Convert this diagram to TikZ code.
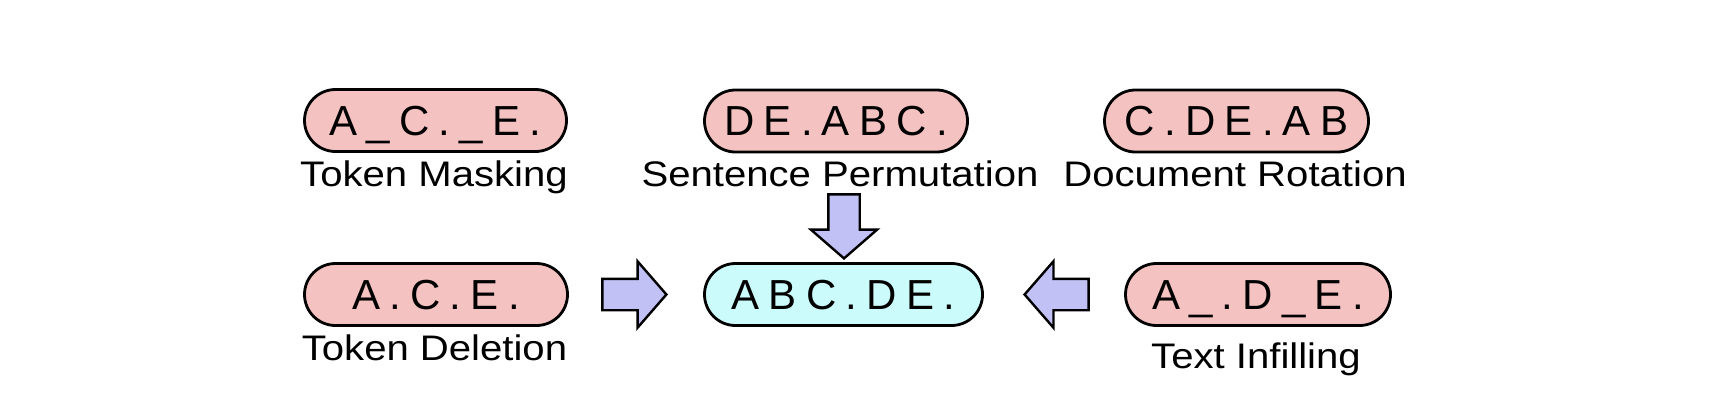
\documentclass[tikz,border=0pt]{standalone}
\usepackage{fontspec}
\setmainfont{Liberation Sans}
\newfontfamily\seqfont[LetterSpace=22]{Liberation Sans}
\newfontfamily\capfont[FakeStretch=1.13]{Liberation Sans}
\usepackage{xcolor}
\usetikzlibrary{shapes.misc,shapes.arrows,positioning}
\definecolor{noisepink}{RGB}{245,194,194}
\definecolor{origcyan}{RGB}{204,251,251}
\definecolor{arrowblue}{RGB}{193,193,245}

\begin{document}
\begin{tikzpicture}[x=1pt, y=-1pt]
		\tikzstyle{every node}=[inner sep=0pt]
		\tikzstyle{seq}=[rounded rectangle, draw, line width=2.8pt, fill=noisepink, minimum height=62pt, text height=29pt, text depth=0pt, font=\fontsize{42}{42}\seqfont]
		\tikzstyle{caption}=[anchor=base, font=\fontsize{35.5}{36}\capfont]
		\tikzstyle{bigarrow}=[single arrow, draw, line width=2.4pt, fill=arrowblue, minimum height=64pt, inner xsep=0pt, inner ysep=14.5pt, single arrow head extend=17.5pt, single arrow tip angle=98, anchor=tip]
		\fill [white] (0,0) rectangle (1710,400);
		% noised documents
		\node [seq, minimum width=262pt] (mask) at (435.5,120.5) {A\_C.\_E.};
		\node [seq, minimum width=263pt] (perm) at (836,121) {DE.ABC.};
		\node [seq, minimum width=264pt] (rot) at (1236.5,121) {C.DE.AB};
		\node [seq, minimum width=263pt] (del) at (436,294.5) {A.C.E.};
		\node [seq, minimum width=265pt] (infill) at (1258,294.5) {A\_.D\_E.};
		% original document
		\node [seq, fill=origcyan, minimum width=278pt] (orig) at (843.5,294.5) {ABC.DE.};
		\node [caption] (maskcap) at (434,186) {Token Masking};
		\node [caption] (permcap) at (840,186) {Sentence Permutation};
		\node [caption] (rotcap) at (1235,186) {Document Rotation};
		\node [caption] (delcap) at (434.5,360) {Token Deletion};
		\node [caption] (infillcap) at (1256,368) {Text Infilling};
		% block arrows into the original
		\node [bigarrow] (delarrow) at (668,294.5) {};
		\node [bigarrow, rotate=180] (infillarrow) at (1023,294.5) {};
		\node [bigarrow, rotate=-90] (permarrow) at (844,260) {};
\end{tikzpicture}
\end{document}
